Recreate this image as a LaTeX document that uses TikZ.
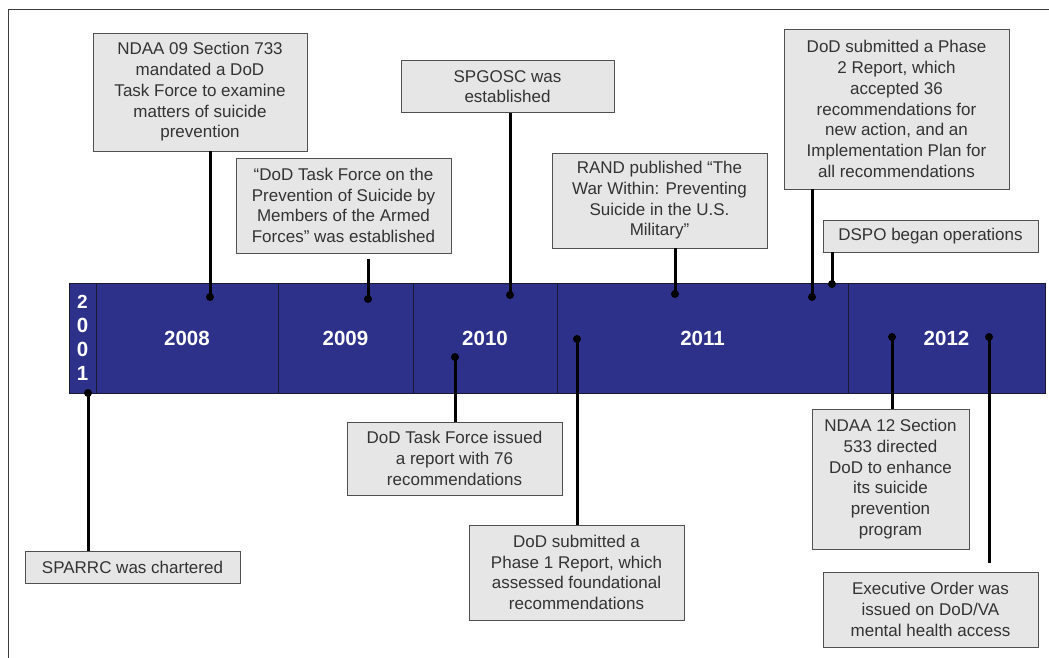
\documentclass[tikz,border=0pt]{standalone}
\usepackage{fontspec}
\setmainfont{Liberation Sans}
\definecolor{barnavy}{RGB}{46,49,138}
\definecolor{boxfill}{RGB}{230,230,230}
\definecolor{boxedge}{RGB}{80,80,80}
\definecolor{ink}{RGB}{51,51,51}
\definecolor{framegray}{RGB}{60,60,60}
\definecolor{celledge}{RGB}{25,25,50}
\tikzset{
  note/.style={draw=boxedge, line width=0.9pt, fill=boxfill, text=ink, align=center,
    font=\fontsize{17}{20.7}\selectfont, inner sep=0pt},
  cell/.style={draw=celledge, line width=1pt, fill=barnavy, text=white, align=center,
    font=\bfseries\fontsize{20.5}{24}\selectfont, minimum height=110pt, inner sep=0pt},
  stem/.style={line width=3pt, black},
  frameline/.style={draw=framegray, line width=1pt}
}
\begin{document}
\begin{tikzpicture}[x=1pt, y=-1pt]
\useasboundingbox (0,0) rectangle (1049,658);

% outer frame (top and left edges)
\draw[frameline] (1049,10) -- (8,10) -- (8,658);

% timeline bar, one cell per year
\node[cell, minimum width=27pt]  (y2001) at (82.5,338)  {\fontsize{19}{24}\selectfont 2\\0\\0\\1};
\node[cell, minimum width=182pt] (y2008) at (187,338)   {2008};
\node[cell, minimum width=135pt] (y2009) at (345.5,338) {2009};
\node[cell, minimum width=144pt] (y2010) at (485,338)   {2010};
\node[cell, minimum width=291pt] (y2011) at (702.5,338) {2011};
\node[cell, minimum width=197pt] (y2012) at (946.5,338) {2012};

% event boxes
\node[note, minimum width=214pt, minimum height=118pt] (ndaa09) at (200,92)
  {NDAA 09 Section 733\\mandated a DoD\\Task Force to examine\\matters of suicide\\prevention};
\node[note, minimum width=215pt, minimum height=95pt] (tfest) at (343.5,205.5)
  {“DoD Task Force on the\\Prevention of Suicide by\\Members of the Armed\\Forces” was established};
\node[note, minimum width=213pt, minimum height=52pt] (spgosc) at (507.5,86.5)
  {SPGOSC was\\established};
\node[note, minimum width=215pt, minimum height=95pt] (rand) at (659.5,200.5)
  {RAND published “The\\War Within:  Preventing\\Suicide in the U.S.\\Military”};
\node[note, minimum width=225pt, minimum height=160pt] (phase2) at (896.5,109)
  {DoD submitted a Phase\\2 Report, which\\accepted 36\\recommendations for\\new action, and an\\Implementation  Plan for\\all recommendations};
\node[note, minimum width=215pt, minimum height=32pt] (dspo) at (930.5,236)
  {DSPO began operations};
\node[note, minimum width=215pt, minimum height=32pt] (sparrc) at (132.5,567)
  {SPARRC was chartered};
\node[note, minimum width=215pt, minimum height=73pt] (tfrep) at (454.5,458.5)
  {DoD Task Force issued\\a report with 76\\recommendations};
\node[note, minimum width=215pt, minimum height=95pt] (phase1) at (576.5,572.5)
  {DoD submitted  a\\Phase 1 Report, which\\assessed foundational\\recommendations};
\node[note, minimum width=157pt, minimum height=140pt] (ndaa12) at (890.5,479)
  {NDAA 12 Section\\533 directed\\DoD to enhance\\its suicide\\prevention\\program};
\node[note, minimum width=215pt, minimum height=75pt] (eo) at (930.5,609.5)
  {Executive Order was\\issued on DoD/VA\\mental health access};

% pin positions on the bar
\coordinate (p1)  at (210,297);
\coordinate (p2)  at (368,299);
\coordinate (p3)  at (510,295);
\coordinate (p4)  at (675,294);
\coordinate (p5)  at (812,297);
\coordinate (p6)  at (832,284);
\coordinate (p7)  at (88,393);
\coordinate (p8)  at (455,357);
\coordinate (p9)  at (577,339);
\coordinate (p10) at (892,337);
\coordinate (p11) at (989,337);

% stems from pins to their boxes
\draw[stem] (p1) -- (p1 |- ndaa09.south);
\draw[stem] (p2) -- ([yshift=-6pt]p2 |- tfest.south);
\draw[stem] (p3) -- (p3 |- spgosc.south);
\draw[stem] (p4) -- (p4 |- rand.south);
\draw[stem] (p5) -- (p5 |- phase2.south);
\draw[stem] (p6) -- (p6 |- dspo.south);
\draw[stem] (p7) -- (p7 |- sparrc.north);
\draw[stem] (p8) -- (p8 |- tfrep.north);
\draw[stem] (p9) -- (p9 |- phase1.north);
\draw[stem] (p10) -- (p10 |- ndaa12.north);
\draw[stem] (p11) -- ([yshift=9pt]p11 |- eo.north);

% pin heads
\foreach \p in {p1,p2,p3,p4,p5,p6,p7,p8,p9,p10,p11}
  \fill[black] (\p) circle (4pt);
\end{tikzpicture}
\end{document}
